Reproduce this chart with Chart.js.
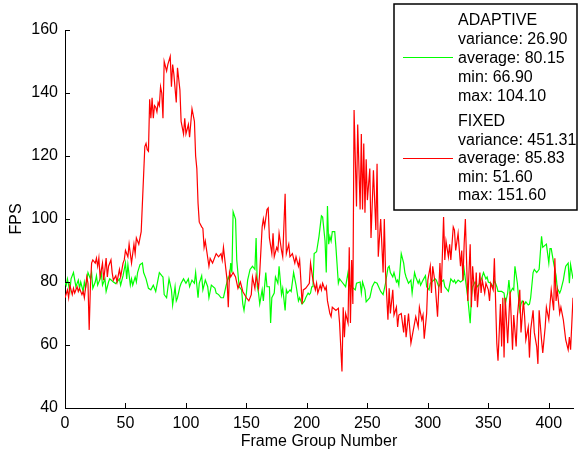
<!DOCTYPE html>
<html lang="en">

<head>
    <meta charset="UTF-8">
    <title>FPS per Frame Group</title>
    <script src="https://cdn.jsdelivr.net/npm/chart.js"></script>
    <style>
        body { margin: 0; background: #fff; }
        #wrap { width: 578px; height: 451px; }
    </style>
</head>

<body>
    <div id="wrap">
        <canvas id="myChart" width="578" height="451"></canvas>
    </div>

    <script>
        // [frame group, fps]
        var adaptivePoints = [[0,80],[1,79],[2,81],[4,77],[5,81],[7,83],[9,78.5],[11,80.6],[12,78],[13,80],[15,77],[16,80],[17,78],[19,83],[21,81],[22,83],[23,78],[25,80],[26,82],[27,79],[29,81],[30,83],[31,79],[33,81],[34,77],[36,80],[37,81],[40,80],[42,79.5],[45,81],[46,79],[48,82],[50,86],[51,81],[52,85.5],[54,79],[55,81],[56,79],[58,81.6],[59,80],[60,83],[62,85.5],[64,86],[65,83],[67,81],[69,78],[71,77.5],[73,79],[75,77],[78,83],[80,82],[81,81.6],[82,76],[84,75],[86,81],[88,77.5],[89,72.7],[91,78.5],[92,74],[93,75],[95,78.5],[96,79.6],[98,81],[100,79.6],[102,81],[103,78.5],[105,80.6],[107,79.6],[108,83],[110,75],[111,79.6],[113,82],[114,77.5],[116,80.6],[118,78.5],[119,75],[121,79],[124,78],[125,76.5],[127,76],[129,75],[131,75],[133,78.5],[135,81.6],[136,80.6],[137,86],[138,83],[139,102.3],[141,100],[142,87],[144,78.5],[146,77.5],[147,73],[148,71],[150,76.5],[151,80.6],[153,84],[154,84.5],[155,85],[157,84],[158,94],[159,78.5],[160,76.5],[161,73],[163,77.5],[164,74],[166,83],[167,78.5],[169,78.5],[170,67],[171,75],[173,76.5],[174,81.6],[176,79.6],[177,85],[179,76],[180,78],[182,71],[183,77.5],[184,76.5],[186,77.5],[187,77],[189,83],[191,79],[192,76.5],[193,74],[194,75],[196,73],[198,74],[199,75],[201,76.5],[202,76],[203,76.5],[204,78.5],[205,78.5],[206,89],[208,89.6],[210,94.5],[212,101],[213,100.6],[215,93],[216,83],[217,104.1],[218,92],[219,94.5],[220,93],[221,96],[223,96],[224,91],[226,79.6],[227,81],[229,80],[231,79],[232,78.5],[234,83],[235,79],[237,78.5],[240,77.5],[241,79.6],[244,80],[245,76.5],[246,80],[248,77.5],[249,73.7],[252,75],[254,78.5],[256,80],[258,79.6],[261,77],[263,76],[265,79.6],[267,84.5],[268,85],[269,83],[271,81.6],[272,83],[274,80],[275,80.6],[276,79],[278,89],[280,86],[281,83],[282,81.6],[284,79.6],[286,80.6],[287,76.5],[289,83],[290,81.6],[292,79.6],[293,80.6],[294,79],[296,80.6],[298,82],[299,78.5],[301,77.5],[302,79.6],[306,81],[307,80.6],[309,78.5],[311,80],[313,80.6],[314,78.5],[317,77],[319,81],[321,80],[322,80.6],[323,79.6],[325,80.6],[327,80],[329,80.6],[330,84],[331,81],[333,75],[335,66.9],[336,75],[337,78.5],[339,80],[341,78.5],[342,79],[344,80.6],[346,83],[348,81],[349,81.6],[350,80],[352,79.6],[354,78.5],[355,80.6],[357,78.5],[358,77],[361,77],[363,76.5],[364,73],[366,76.5],[367,80.6],[368,76.5],[370,78],[371,77.5],[372,85],[374,79.6],[375,75],[376,71],[377,73],[378,74],[380,73],[381,73.7],[383,72.7],[384,73],[385,75],[387,83],[388,84],[390,83],[392,84],[394,94.5],[395,91],[397,91.7],[398,92],[400,86],[401,90.6],[402,90.6],[404,86],[406,82],[407,78],[409,76.5],[410,77.5],[412,80.6],[413,83],[414,85],[416,86],[417,79.6],[418,85.5],[420,81]];

        var fixedPoints = [[0,75],[2,77.5],[3,75],[4,79],[6,76],[7,78],[8,76.5],[10,78.5],[11,77],[12,78],[14,76],[15,77],[16,75],[18,81.6],[19,79.6],[20,64.8],[21,78.5],[22,86],[23,87],[25,86],[26,87.6],[27,85],[28,87.6],[29,81.6],[31,86],[32,80.6],[34,87.6],[35,81.6],[36,85],[38,87],[39,83],[40,80.6],[42,82],[43,80],[45,84],[46,81.6],[48,86],[49,87],[50,90],[52,88],[53,92],[54,89],[55,86],[57,92],[58,89],[59,94],[61,92],[62,94],[63,96],[66,123],[67,124],[68,122],[69,121.5],[70,138],[71,132],[72,138.5],[73,132],[74,136],[75,135.5],[76,134],[77,137],[78,136],[79,142],[80,140],[81,132],[82,150],[84,147],[85,149],[87,151.6],[88,142],[89,149],[90,146],[92,137],[93,148],[95,141],[96,131],[98,127],[99,132],[100,127],[102,130],[103,126],[105,135],[107,131],[108,120],[109,116],[110,105],[111,99],[113,97.5],[114,97],[115,91],[116,93],[119,85],[120,87.5],[122,86],[124,88],[125,89],[127,88],[129,89],[130,87],[131,91],[133,84],[134,80.6],[135,72],[136,83],[137,81.6],[139,83],[141,81.6],[143,78],[145,80],[147,77],[150,75],[152,74],[154,76],[155,81.6],[157,78],[158,82],[160,78],[161,83],[163,97.5],[164,100],[165,97.5],[167,103],[168,103.5],[169,94],[171,89],[172,95.5],[173,88],[175,91],[176,90],[177,95.5],[179,90],[180,88],[182,108],[183,89],[185,92],[186,88],[188,89],[190,86],[191,88],[193,85],[194,87],[195,80.6],[196,73],[197,77.5],[199,78],[202,79.6],[203,86],[205,80.6],[207,77.5],[208,79.6],[209,76.5],[211,79],[212,77.5],[213,79.6],[215,77.5],[216,78.5],[217,74],[219,70],[220,69],[221,72],[224,71],[226,71.7],[227,67],[229,51.6],[230,72],[231,62.5],[232,70],[234,67],[235,91],[236,67],[237,87],[238,73],[239,134.6],[241,104],[242,130],[244,103],[245,127],[246,103],[247,124],[248,102],[249,119],[250,106],[252,116],[253,94],[255,115.5],[257,96.5],[258,117.5],[259,88],[261,100],[263,83],[264,100],[265,83],[267,68],[268,78],[269,70],[271,77.5],[272,69.5],[274,72],[275,65.7],[276,69.5],[278,70],[280,64],[281,69.5],[282,62.5],[284,70],[286,60.6],[288,64.8],[290,69],[292,65.7],[293,72],[295,68],[296,69.5],[297,62],[299,70],[300,80.6],[302,85],[303,76.5],[304,85],[306,79.6],[308,69],[310,86],[311,76.5],[313,100.6],[314,87],[315,93],[317,88],[318,92],[319,87],[321,97.5],[322,96.5],[323,90],[325,95.5],[327,85],[328,90],[329,80.6],[330,92],[331,100],[333,74],[335,92],[336,72],[337,85],[339,74],[340,83],[341,72],[343,83],[344,76.5],[345,80.6],[347,76.5],[348,79.6],[350,77.5],[351,74],[352,79.6],[354,77.5],[355,87.5],[357,60.6],[358,55],[360,73],[361,59.5],[362,75],[363,56],[364,75],[366,60.6],[367,69],[368,77],[370,58.5],[371,69.5],[373,59.5],[374,69],[376,77.5],[377,64],[379,74],[380,69],[381,61.6],[383,65.7],[384,56],[385,64.8],[387,71],[388,64],[390,59.5],[391,54],[392,71],[394,61.6],[395,57.5],[397,65.7],[398,72],[400,68],[401,73],[402,77.5],[404,71],[405,87.5],[406,74],[407,77.5],[409,70],[410,72],[412,68],[413,64.8],[414,61.6],[416,58.5],[417,62.5],[418,58.5],[420,75]];

        var xTickValues = [0, 50, 100, 150, 200, 250, 300, 350, 400];
        var yTickValues = [40, 60, 80, 100, 120, 140, 160];

        var adaptiveLegend = ['ADAPTIVE', 'variance: 26.90', 'average: 80.15', 'min: 66.90', 'max: 104.10'];
        var fixedLegend = ['FIXED', 'variance: 451.31', 'average: 85.83', 'min: 51.60', 'max: 151.60'];

        var FONT = '"Liberation Sans", Arial, Helvetica, sans-serif';

        function toXY(list) {
            return list.map(function (p) { return { x: p[0], y: p[1] }; });
        }

        // inward tick marks + stats box (matlab look)
        var matlabBits = {
            id: 'matlabBits',
            afterDraw: function (chart) {
                var ctx = chart.ctx;
                var area = chart.chartArea;
                var xs = chart.scales.x, ys = chart.scales.y;
                ctx.save();
                ctx.strokeStyle = '#000';
                ctx.lineWidth = 1;
                ctx.beginPath();
                xTickValues.forEach(function (v) {
                    var px = Math.round(xs.getPixelForValue(v)) + 0.5;
                    ctx.moveTo(px, area.bottom);
                    ctx.lineTo(px, area.bottom - 5);
                });
                yTickValues.forEach(function (v) {
                    var py = Math.round(ys.getPixelForValue(v)) + 0.5;
                    ctx.moveTo(area.left, py);
                    ctx.lineTo(area.left + 5, py);
                });
                ctx.stroke();

                // legend box
                ctx.fillStyle = '#fff';
                ctx.fillRect(394, 4, 183, 206);
                ctx.lineWidth = 1.5;
                ctx.strokeRect(394, 4, 183, 206);

                ctx.lineWidth = 1.2;
                ctx.strokeStyle = '#00ff00';
                ctx.beginPath(); ctx.moveTo(403, 57.5); ctx.lineTo(453, 57.5); ctx.stroke();
                ctx.strokeStyle = '#ff0000';
                ctx.beginPath(); ctx.moveTo(403, 158.5); ctx.lineTo(453, 158.5); ctx.stroke();

                ctx.fillStyle = '#000';
                ctx.font = '16px ' + FONT;
                ctx.textBaseline = 'middle';
                ctx.textAlign = 'left';
                adaptiveLegend.forEach(function (t, i) { ctx.fillText(t, 458, 21 + i * 18.8); });
                fixedLegend.forEach(function (t, i) { ctx.fillText(t, 458, 121.5 + i * 18.6); });
                ctx.restore();
            }
        };

        Chart.defaults.font.family = FONT;
        Chart.defaults.font.size = 16;
        Chart.defaults.color = '#000';

        var ctx = document.getElementById('myChart');
        var myChart = new Chart(ctx, {
            type: 'line',
            data: {
                datasets: [{
                    label: 'FIXED',
                    data: toXY(fixedPoints),
                    borderColor: '#ff0000',
                    borderWidth: 1.2,
                    pointRadius: 0,
                    tension: 0
                }, {
                    label: 'ADAPTIVE',
                    data: toXY(adaptivePoints),
                    borderColor: '#00ff00',
                    borderWidth: 1.2,
                    pointRadius: 0,
                    tension: 0
                }]
            },
            options: {
                responsive: false,
                animation: false,
                devicePixelRatio: 1,
                layout: { padding: { left: 0, top: 30, right: 5, bottom: 0 } },
                plugins: {
                    legend: { display: false },
                    tooltip: { enabled: false }
                },
                scales: {
                    x: {
                        type: 'linear',
                        min: 0,
                        max: 420,
                        afterBuildTicks: function (s) { s.ticks = xTickValues.map(function (v) { return { value: v }; }); },
                        afterFit: function (s) { s.height = 43; },
                        grid: { display: false, drawTicks: false },
                        border: { display: true, color: '#000', width: 1 },
                        ticks: { padding: 6, maxRotation: 0, autoSkip: false },
                        title: { display: true, text: 'Frame Group Number', padding: { top: 0, bottom: 0 } }
                    },
                    y: {
                        min: 40,
                        max: 160,
                        afterBuildTicks: function (s) { s.ticks = yTickValues.map(function (v) { return { value: v }; }); },
                        afterFit: function (s) { s.width = 65; },
                        grid: { display: false, drawTicks: false },
                        border: { display: true, color: '#000', width: 1 },
                        ticks: { padding: 7, autoSkip: false },
                        title: { display: true, text: 'FPS', padding: { top: 7, bottom: 0 } }
                    }
                }
            },
            plugins: [matlabBits]
        });
    </script>
</body>

</html>
